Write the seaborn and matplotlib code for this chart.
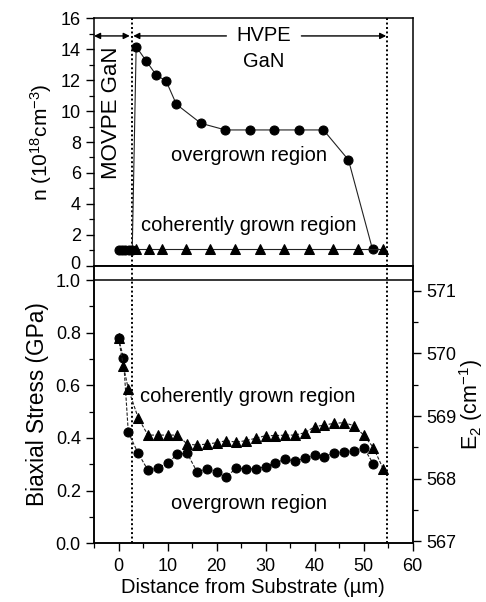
import matplotlib
matplotlib.use("Agg")
import matplotlib.pyplot as plt
import matplotlib.transforms as mtrans
import seaborn as sns
import pandas as pd
from matplotlib.ticker import MultipleLocator

# ---------------- data ----------------
# top panel: carrier concentration n (10^18 cm^-3)
n_over_x = [0.0, 0.7, 1.4, 2.1, 2.8, 3.6, 5.6, 7.7, 9.7, 11.8, 16.8, 21.8, 26.8,
            31.8, 36.8, 41.8, 46.9, 51.8]
n_over_y = [1.0, 1.0, 1.0, 1.0, 1.0, 14.17, 13.26, 12.33, 11.95, 10.44, 9.21,
            8.78, 8.78, 8.78, 8.78, 8.78, 6.84, 1.06]
n_coh_x = [3.6, 6.2, 8.85, 13.8, 18.7, 23.8, 28.8, 33.8, 38.8, 43.8, 48.8, 53.9]
n_coh_y = [1.1, 1.1, 1.1, 1.1, 1.1, 1.1, 1.1, 1.1, 1.1, 1.1, 1.1, 1.1]

# bottom panel: biaxial stress (GPa)
s_over_x = [0, 1, 2, 4, 6, 8, 10, 12, 14, 16, 18, 20, 22, 24, 26, 28, 30, 32,
            34, 36, 38, 40, 42, 44, 46, 48, 50, 52]
s_over_y = [0.779, 0.705, 0.421, 0.342, 0.278, 0.287, 0.304, 0.338, 0.342, 0.272,
            0.282, 0.272, 0.253, 0.285, 0.283, 0.283, 0.291, 0.306, 0.319, 0.313,
            0.323, 0.335, 0.329, 0.344, 0.348, 0.352, 0.363, 0.301]
s_coh_x = [0, 1, 2, 4, 6, 8, 10, 12, 14, 16, 18, 20, 22, 24, 26, 28, 30, 32,
           34, 36, 38, 40, 42, 44, 46, 48, 50, 52, 54]
s_coh_y = [0.78, 0.673, 0.586, 0.477, 0.411, 0.411, 0.411, 0.411, 0.377, 0.373,
           0.377, 0.382, 0.390, 0.384, 0.390, 0.399, 0.409, 0.409, 0.411, 0.411,
           0.420, 0.443, 0.449, 0.456, 0.458, 0.447, 0.411, 0.363, 0.282]

boundary_x = [2.7, 54.8]

top_yticks = [0, 2, 4, 6, 8, 10, 12, 14, 16]
bot_yticks = [0.0, 0.2, 0.4, 0.6, 0.8, 1.0]
right_yticks = [567, 568, 569, 570, 571]
xticks = [0, 10, 20, 30, 40, 50, 60]

# ---------------- style ----------------
sns.set_style("ticks")
plt.rcParams['font.family'] = ['Liberation Sans', 'DejaVu Sans']
plt.rcParams['mathtext.fontset'] = 'custom'
plt.rcParams['mathtext.rm'] = 'Liberation Sans'
plt.rcParams['mathtext.it'] = 'Liberation Sans:italic'
for k in ['text.color', 'axes.labelcolor', 'xtick.color', 'ytick.color', 'axes.edgecolor']:
    plt.rcParams[k] = 'black'
plt.rcParams['axes.linewidth'] = 1.1
plt.rcParams['xtick.major.width'] = 1.0
plt.rcParams['ytick.major.width'] = 1.0
plt.rcParams['xtick.minor.width'] = 0.9
plt.rcParams['ytick.minor.width'] = 0.9

TICK = 13
ANN = 14.5

fig = plt.figure(figsize=(4.86, 6.02), dpi=100)
L, W = 0.1934, 0.6558
ax1 = fig.add_axes([L, 0.5586, W, 0.4110])
ax2 = fig.add_axes([L, 0.0975, W, 0.4611])

df_n_over = pd.DataFrame({"x": n_over_x, "y": n_over_y})
df_n_coh = pd.DataFrame({"x": n_coh_x, "y": n_coh_y})
df_s_over = pd.DataFrame({"x": s_over_x, "y": s_over_y})
df_s_coh = pd.DataFrame({"x": s_coh_x, "y": s_coh_y})

# top panel
sns.lineplot(data=df_n_over, x="x", y="y", ax=ax1, sort=False, estimator=None,
             color="#222222", lw=0.8, marker="o", markersize=6.5,
             markerfacecolor="black", markeredgecolor="black")
sns.lineplot(data=df_n_coh, x="x", y="y", ax=ax1, sort=False, estimator=None,
             color="#222222", lw=0.8, marker="^", markersize=7,
             markerfacecolor="black", markeredgecolor="black")

# bottom panel
sns.lineplot(data=df_s_over, x="x", y="y", ax=ax2, sort=False, estimator=None,
             color="#222222", lw=0.8, marker="o", markersize=6.5,
             markerfacecolor="black", markeredgecolor="black", dashes=False)
sns.lineplot(data=df_s_coh, x="x", y="y", ax=ax2, sort=False, estimator=None,
             color="#222222", lw=0.8, marker="^", markersize=7.5,
             markerfacecolor="black", markeredgecolor="black", dashes=False)
for ln in ax2.get_lines():
    ln.set_linestyle((0, (3, 1.5)))

for ax in (ax1, ax2):
    ax.set_xlim(-5, 60)
    for bx in boundary_x:
        ax.axvline(bx, color="black", lw=1.4, ls=(0, (1, 1.3)), zorder=1)
    ax.xaxis.set_minor_locator(MultipleLocator(5))
    ax.tick_params(which="major", direction="out", length=6, labelsize=TICK, pad=3.5)
    ax.tick_params(which="minor", direction="out", length=3.5)
    ax.set_xlabel("")
    ax.set_ylabel("")

ax1.set_ylim(0, 16)
ax1.set_yticks(top_yticks, labels=[str(v) for v in top_yticks])
ax1.yaxis.set_minor_locator(MultipleLocator(1))
ax1.set_xticks(xticks)
ax1.tick_params(axis="x", which="both", bottom=False, labelbottom=False)
ax1.set_ylabel(r"n (10$^{18}$cm$^{-3}$)", fontsize=15, labelpad=5)
# lift the "0" label slightly, as in the original, so it clears "1.0" below
zero_lbl = ax1.yaxis.get_major_ticks()[0].label1
zero_lbl.set_transform(zero_lbl.get_transform() +
                       mtrans.ScaledTranslation(0, 2.5 / 72, fig.dpi_scale_trans))

ax2.set_ylim(0, 1.0543)
ax2.set_yticks(bot_yticks, labels=[f"{v:.1f}" for v in bot_yticks])
ax2.yaxis.set_minor_locator(MultipleLocator(0.1))
ax2.set_xticks(xticks)
ax2.tick_params(axis="x", which="major", pad=4.5)
ax2.axhline(1.0, color="black", lw=1.1, zorder=1)
ax2.set_ylabel("Biaxial Stress (GPa)", fontsize=16.3, labelpad=5)
ax2.set_xlabel("Distance from Substrate (\u00b5m)", fontsize=14.5, labelpad=2)

ax3 = ax2.twinx()
ax3.set_ylim(566.97, 571.40)
ax3.set_yticks(right_yticks)
ax3.yaxis.set_minor_locator(MultipleLocator(0.5))
ax3.tick_params(which="major", direction="out", length=6, labelsize=TICK, pad=4)
ax3.tick_params(which="minor", direction="out", length=3.5)
ax3.set_ylabel(r"E$_2$ (cm$^{-1}$)", fontsize=15.5, labelpad=0)

# annotations top
ax1.text(-1.5, 9.9, "MOVPE GaN", rotation=90, ha="center", va="center", fontsize=16)
ax1.text(29.6, 14.92, "HVPE", ha="center", va="center", fontsize=ANN)
ax1.text(29.6, 13.2, "GaN", ha="center", va="center", fontsize=ANN)
ax1.text(26.6, 7.16, "overgrown region", ha="center", va="center", fontsize=ANN)
ax1.text(26.5, 2.57, "coherently grown region", ha="center", va="center", fontsize=ANN)
aprops = dict(arrowstyle="<|-|>", color="black", lw=1.0, mutation_scale=9,
              shrinkA=0, shrinkB=0)
ax1.annotate("", xy=(2.3, 14.86), xytext=(-5, 14.86), arrowprops=aprops)
hprops = dict(arrowstyle="-|>", color="black", lw=1.0, mutation_scale=9,
              shrinkA=0, shrinkB=0)
ax1.annotate("", xy=(3.0, 14.86), xytext=(22.0, 14.86), arrowprops=hprops)
ax1.annotate("", xy=(54.6, 14.86), xytext=(37.3, 14.86), arrowprops=hprops)

# annotations bottom
ax2.text(4.3, 0.557, "coherently grown region", ha="left", va="center", fontsize=ANN)
ax2.text(26.7, 0.152, "overgrown region", ha="center", va="center", fontsize=ANN)

fig.savefig("out.png", dpi=100)
